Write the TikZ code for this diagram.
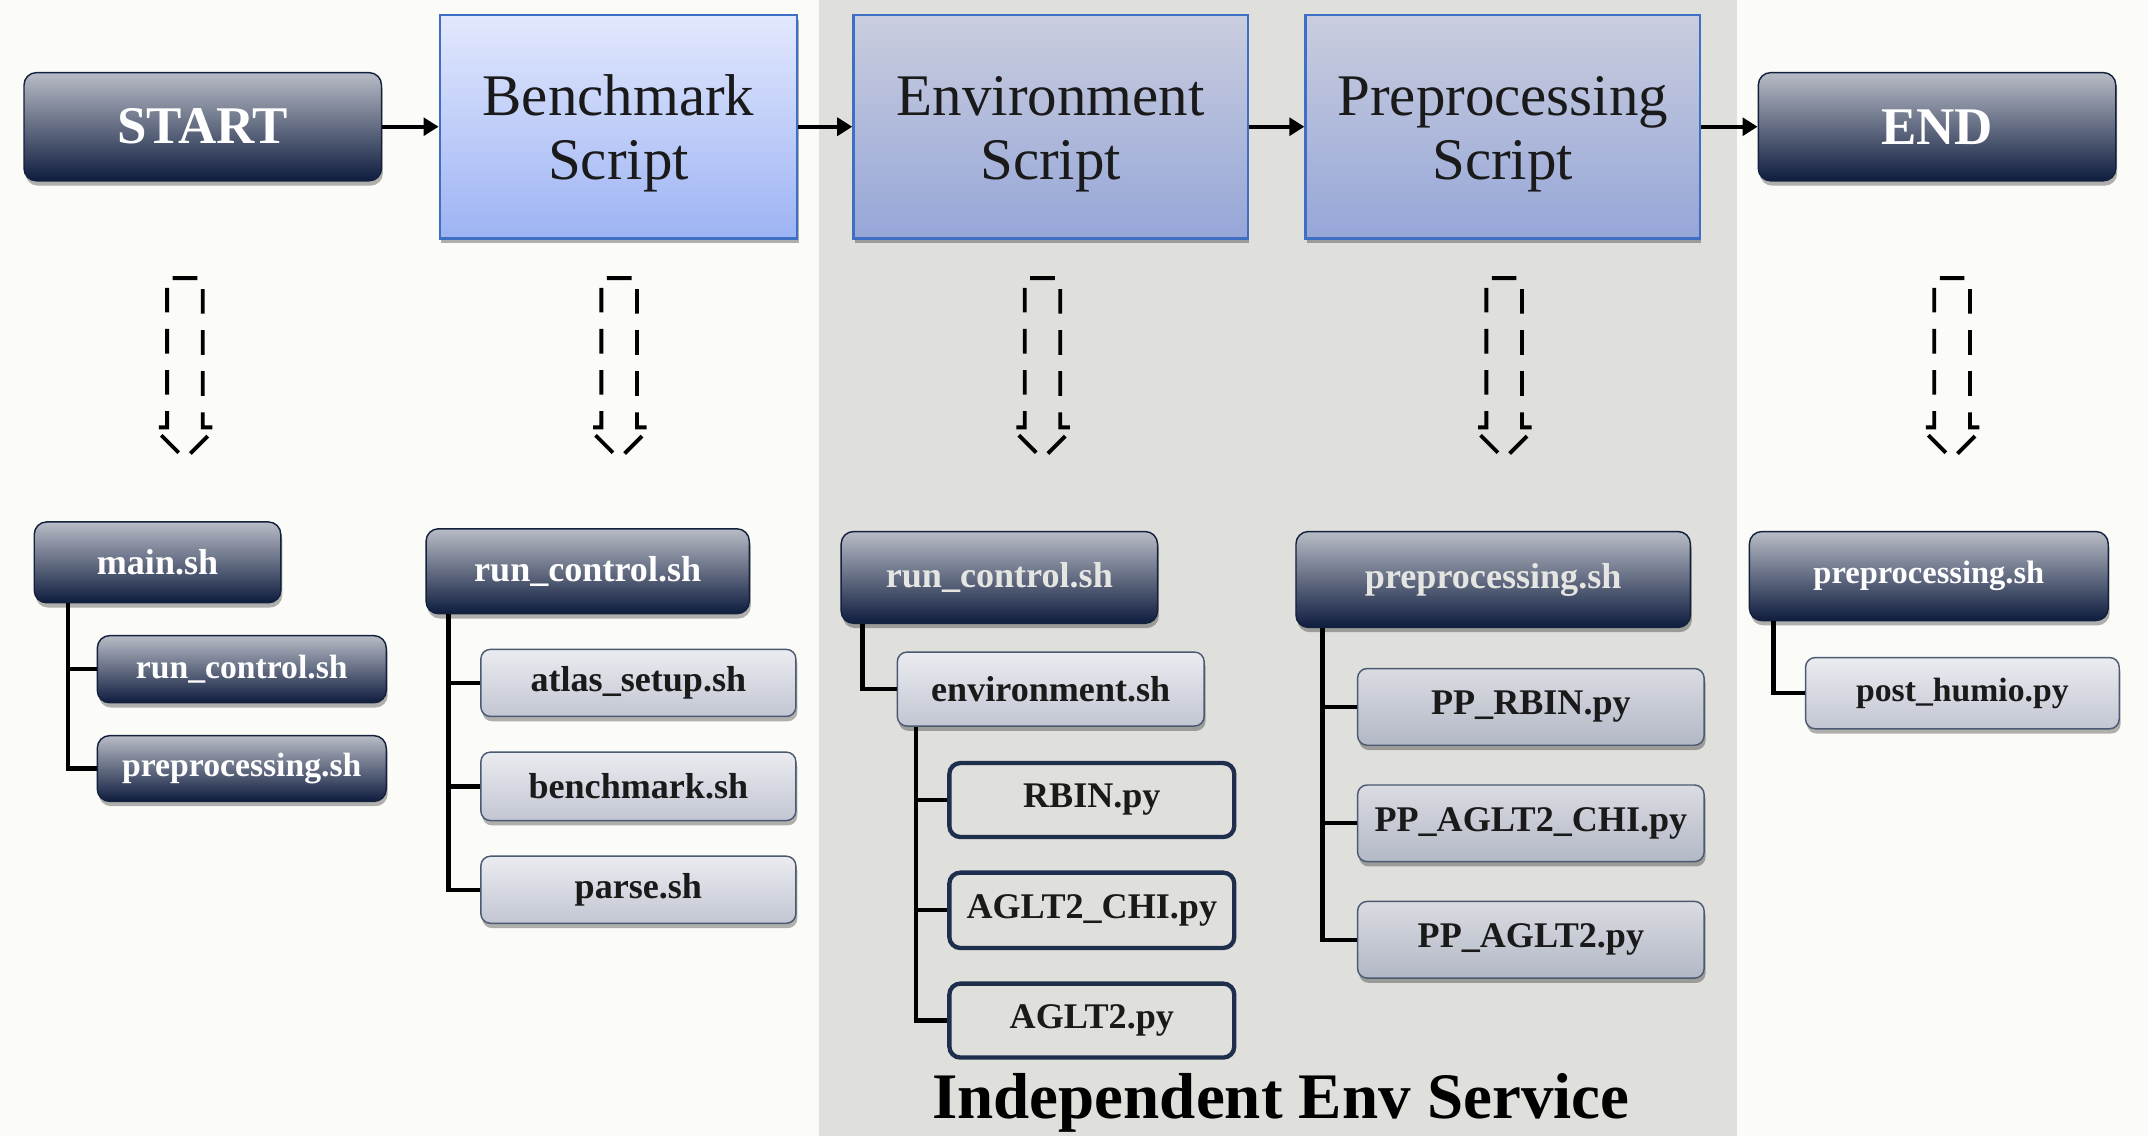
\documentclass[tikz,border=0pt]{standalone}
\usepackage{fontspec}
\setmainfont{Liberation Serif}
\usetikzlibrary{arrows.meta,shadows}

\definecolor{pagebg}{HTML}{FBFBF8}
\definecolor{bandbg}{HTML}{DFDFDB}
\definecolor{darktop}{HTML}{B8BCC6}
\definecolor{darkbot}{HTML}{0E1C3E}
\definecolor{darkline}{HTML}{14213D}
\definecolor{bluetop}{HTML}{E2E8FD}
\definecolor{bluebot}{HTML}{9DB3F3}
\definecolor{blueline}{HTML}{3F6FC4}
\definecolor{bandtop}{HTML}{C9CDDE}
\definecolor{bandbot}{HTML}{96A6D8}
\definecolor{lighttop}{HTML}{EBECF1}
\definecolor{lightbot}{HTML}{C2C6D2}
\definecolor{greytop}{HTML}{DADCE2}
\definecolor{greybot}{HTML}{B3B8C6}
\definecolor{navyline}{HTML}{1E2F4E}
\definecolor{inktext}{HTML}{1A1A1A}

\begin{document}
\begin{tikzpicture}[x=0.02cm,y=-0.02cm,
        every node/.style={align=center,text=inktext,font=\bfseries\fontsize{15}{18}\selectfont},
        shade/.style={drop shadow={shadow xshift=0.6pt,shadow yshift=-2pt,opacity=0.3,fill=black}},
        darkbox/.style={shade,rounded corners=0.18cm,draw=darkline,line width=0.6pt,top color=darktop,bottom color=darkbot,text=white},
        fadedbox/.style={darkbox,text=bandbg!80!white},
        scriptbox/.style={shade,draw=blueline,line width=1pt,top color=bluetop,bottom color=bluebot,minimum width=5.22cm,minimum height=3.26cm,font=\fontsize{24.5}{26.5}\selectfont},
        bandbox/.style={scriptbox,top color=bandtop,bottom color=bandbot,minimum width=5.76cm},
        lightbox/.style={shade,rounded corners=0.14cm,draw=navyline!80,line width=0.6pt,top color=lighttop,bottom color=lightbot},
        greybox/.style={lightbox,top color=greytop,bottom color=greybot,minimum width=5.06cm,minimum height=1.12cm},
        pybox/.style={rounded corners=0.16cm,draw=navyline,line width=1.8pt,minimum width=4.16cm,minimum height=1.08cm},
        endbox/.style={darkbox,minimum width=5.22cm,minimum height=1.58cm,font=\bfseries\fontsize{22}{26}\selectfont},
        small/.style={font=\bfseries\fontsize{14}{17}\selectfont},
        flow/.style={line width=1.8pt,-{Triangle[length=0.22cm,width=0.26cm]}},
        tree/.style={line width=1.8pt},
        hollow/.style={line width=1.6pt,dash pattern=on 0.36cm off 0.24cm}
    ]
    \useasboundingbox (0,0) rectangle (1568,829);
    \fill[pagebg] (0,0) rectangle (1568,829);
    \fill[bandbg] (598,0) rectangle (1268,829);

    \node[endbox] (start) at (148,92.5) {START};
    \node[scriptbox] (bench) at (451.5,92.5) {\rule{0pt}{0.92em}Benchmark\\Script};
    \node[bandbox] (env) at (767,92.5) {\rule{0pt}{0.92em}Environment\\Script};
    \node[bandbox] (prep) at (1097,92.5) {\rule{0pt}{0.92em}Preprocessing\\Script};
    \node[endbox] (end) at (1414,92.5) {END};

    \draw[flow] (start) -- (bench);
    \draw[flow] (bench) -- (env);
    \draw[flow] (env) -- (prep);
    \draw[flow] (prep) -- (end);

    \foreach \cx in {135,452,761,1098,1425}
        \draw[hollow] (\cx-9,203) -- (\cx+13,203) -- (\cx+13,312) -- (\cx+23,312) -- (\cx,335)
            -- (\cx-23,312) -- (\cx-13,312) -- (\cx-13,203) -- cycle;

    \node[darkbox,minimum width=3.6cm,minimum height=1.18cm] (main) at (115,410.5) {main.sh};
    \node[darkbox,small,minimum width=4.22cm,minimum height=0.98cm] (mainrun) at (176.5,488.5) {run\_control.sh};
    \node[darkbox,small,minimum width=4.22cm,minimum height=0.96cm] (mainpre) at (176.5,561) {preprocessing.sh};
    \draw[tree] ([xshift=0.5cm]main.south west) |- (mainrun.west);
    \draw[tree] ([xshift=0.5cm]main.south west) |- (mainpre.west);

    \node[darkbox,minimum width=4.72cm,minimum height=1.24cm] (benchrun) at (429,417) {run\_control.sh};
    \node[lightbox,minimum width=4.6cm,minimum height=0.98cm] (atlas) at (466,498.5) {atlas\_setup.sh};
    \node[lightbox,minimum width=4.6cm,minimum height=1cm] (benchsh) at (466,574) {benchmark.sh};
    \node[lightbox,minimum width=4.6cm,minimum height=0.98cm] (parse) at (466,649.5) {parse.sh};
    \foreach \kid in {atlas,benchsh,parse}
        \draw[tree] ([xshift=0.34cm]benchrun.south west) |- (\kid.west);

    \node[fadedbox,minimum width=4.62cm,minimum height=1.34cm] (envrun) at (729.5,421.5) {run\_control.sh};
    \node[lightbox,minimum width=4.48cm,minimum height=1.08cm] (envsh) at (767,503) {environment.sh};
    \node[pybox] (rbin) at (797,584) {RBIN.py};
    \node[pybox,minimum height=1.1cm] (chi) at (797,664.5) {AGLT2\_CHI.py};
    \node[pybox] (aglt) at (797,745) {AGLT2.py};
    \draw[tree] ([xshift=0.32cm]envrun.south west) |- (envsh.west);
    \foreach \kid in {rbin,chi,aglt}
        \draw[tree] ([xshift=0.28cm]envsh.south west) |- (\kid.west);

    \node[fadedbox,minimum width=5.76cm,minimum height=1.4cm] (preppre) at (1090,423) {preprocessing.sh};
    \node[greybox] (pprbin) at (1117.5,516) {PP\_RBIN.py};
    \node[greybox] (ppchi) at (1117.5,601) {PP\_AGLT2\_CHI.py};
    \node[greybox] (ppaglt) at (1117.5,686) {PP\_AGLT2.py};
    \foreach \kid in {pprbin,ppchi,ppaglt}
        \draw[tree] ([xshift=0.4cm]preppre.south west) |- (\kid.west);

    \node[darkbox,font=\bfseries\fontsize{13.5}{16}\selectfont,minimum width=5.24cm,minimum height=1.3cm] (endpre) at (1408,420.5) {preprocessing.sh};
    \node[lightbox,small,minimum width=4.58cm,minimum height=1.04cm] (humio) at (1432.5,506) {post\_humio.py};
    \draw[tree] ([xshift=0.36cm]endpre.south west) |- (humio.west);

    \node[font=\bfseries\fontsize{27}{31}\selectfont,text=black] (service) at (935,805) {Independent Env Service};
\end{tikzpicture}
\end{document}
